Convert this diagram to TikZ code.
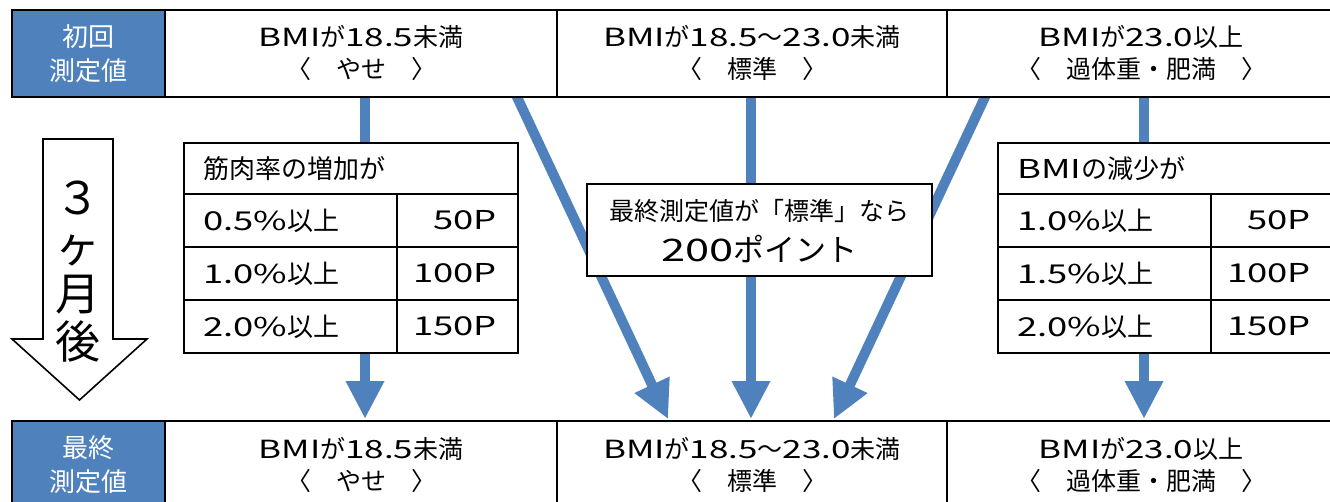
\documentclass[tikz,border=0pt]{standalone}
\usepackage{fontspec}
\setmainfont{Noto Sans CJK JP}
\newfontfamily\latf[FakeStretch=1.4]{Noto Sans CJK JP}
\newcommand\wl[1]{{\latf #1}}
\usetikzlibrary{arrows.meta}
\pgfdeclarelayer{bg}
\pgfsetlayers{bg,main}
\definecolor{ofblue}{RGB}{79,129,189}
\tikzset{
  cell/.style={draw=black, line width=1.6pt, fill=white, minimum height=87pt, inner sep=0pt, outer sep=0pt,
    align=center, anchor=north west, font=\fontsize{25}{32}\selectfont},
  lab/.style={cell, fill=ofblue, text=white, font=\fontsize{26}{34}\selectfont},
  tcell/.style={draw=black, line width=2pt, fill=white, inner sep=0pt, outer sep=0pt, anchor=north west},
  ttxt/.style={inner sep=0pt, font=\fontsize{26}{30}\selectfont},
  flow/.style={draw=ofblue, line width=10pt, -{Triangle[width=36pt,length=38pt]}, shorten >=2pt, shorten <=-4pt},
}
\begin{document}
\begin{tikzpicture}[x=1pt,y=-1pt]
\useasboundingbox (0,0) rectangle (1330,502);

% top row
\node[lab, minimum width=153pt] (ta) at (12,10) {初回\\測定値};
\node[cell, minimum width=392pt] (t1) at (165,10) {\wl{BMI}が\wl{18.5}未満\\〈　やせ　〉};
\node[cell, minimum width=390pt] (t2) at (557,10) {\wl{BMI}が\wl{18.5}～\wl{23.0}未満\\〈　標準　〉};
\node[cell, minimum width=388pt] (t3) at (947,10) {\wl{BMI}が\wl{23.0}以上\\〈　過体重・肥満　〉};

% bottom row
\node[lab, minimum width=153pt] (ba) at (12,421) {最終\\測定値};
\node[cell, minimum width=392pt] (b1) at (165,421) {\wl{BMI}が\wl{18.5}未満\\〈　やせ　〉};
\node[cell, minimum width=390pt] (b2) at (557,421) {\wl{BMI}が\wl{18.5}～\wl{23.0}未満\\〈　標準　〉};
\node[cell, minimum width=388pt] (b3) at (947,421) {\wl{BMI}が\wl{23.0}以上\\〈　過体重・肥満　〉};

% big hollow arrow
\draw[line width=1.6pt, fill=white, line join=miter] (43,139) -- (113,139) -- (113,339) -- (147,339) -- (79.5,400) -- (12,339) -- (43,339) -- cycle;
\node[inner sep=0pt, align=center, font=\fontsize{45}{48}\selectfont] (mon) at (78,272) {３\\ヶ\\月\\後};

% left table
\node[tcell, minimum width=334pt, minimum height=51pt] (lh) at (184,143) {};
\node[tcell, minimum width=213pt, minimum height=53pt] (l1a) at (184,194) {};
\node[tcell, minimum width=121pt, minimum height=53pt] (l1b) at (397,194) {};
\node[tcell, minimum width=213pt, minimum height=53pt] (l2a) at (184,247) {};
\node[tcell, minimum width=121pt, minimum height=53pt] (l2b) at (397,247) {};
\node[tcell, minimum width=213pt, minimum height=53pt] (l3a) at (184,300) {};
\node[tcell, minimum width=121pt, minimum height=53pt] (l3b) at (397,300) {};
\node[ttxt, anchor=west] (lht) at ([xshift=19pt]lh.west) {筋肉率の増加が};
\node[ttxt, anchor=west] (l1at) at ([xshift=19pt]l1a.west) {\wl{0.5\%}以上};
\node[ttxt, anchor=east] (l1bt) at ([xshift=-21pt]l1b.east) {\wl{50P}};
\node[ttxt, anchor=west] (l2at) at ([xshift=19pt]l2a.west) {\wl{1.0\%}以上};
\node[ttxt, anchor=east] (l2bt) at ([xshift=-21pt]l2b.east) {\wl{100P}};
\node[ttxt, anchor=west] (l3at) at ([xshift=19pt]l3a.west) {\wl{2.0\%}以上};
\node[ttxt, anchor=east] (l3bt) at ([xshift=-21pt]l3b.east) {\wl{150P}};

% right table
\node[tcell, minimum width=334pt, minimum height=51pt] (rh) at (998,143) {};
\node[tcell, minimum width=213pt, minimum height=53pt] (r1a) at (998,194) {};
\node[tcell, minimum width=121pt, minimum height=53pt] (r1b) at (1211,194) {};
\node[tcell, minimum width=213pt, minimum height=53pt] (r2a) at (998,247) {};
\node[tcell, minimum width=121pt, minimum height=53pt] (r2b) at (1211,247) {};
\node[tcell, minimum width=213pt, minimum height=53pt] (r3a) at (998,300) {};
\node[tcell, minimum width=121pt, minimum height=53pt] (r3b) at (1211,300) {};
\node[ttxt, anchor=west] (rht) at ([xshift=19pt]rh.west) {\wl{BMI}の減少が};
\node[ttxt, anchor=west] (r1at) at ([xshift=19pt]r1a.west) {\wl{1.0\%}以上};
\node[ttxt, anchor=east] (r1bt) at ([xshift=-21pt]r1b.east) {\wl{50P}};
\node[ttxt, anchor=west] (r2at) at ([xshift=19pt]r2a.west) {\wl{1.5\%}以上};
\node[ttxt, anchor=east] (r2bt) at ([xshift=-21pt]r2b.east) {\wl{100P}};
\node[ttxt, anchor=west] (r3at) at ([xshift=19pt]r3a.west) {\wl{2.0\%}以上};
\node[ttxt, anchor=east] (r3bt) at ([xshift=-21pt]r3b.east) {\wl{150P}};

% centre box
\node[tcell, anchor=center, minimum width=345pt, minimum height=92pt] (cb) at (759.5,230) {};
\node[inner sep=0pt, font=\fontsize{25}{30}\selectfont] (cb1) at (759.5,211) {最終測定値が「標準」なら};
\node[inner sep=0pt, font=\fontsize{31}{36}\selectfont] (cb2) at (759.5,249) {\wl{200}ポイント};

% blue flow arrows (behind)
\begin{pgfonlayer}{bg}
\draw[flow] ([xshift=4pt]t1.south) -- ([xshift=4pt]b1.north);
\draw[flow] ([xshift=-1pt]t2.south) -- ([xshift=-1pt]b2.north);
\draw[flow] ([xshift=3pt]t3.south) -- ([xshift=3pt]b3.north);
\draw[flow] ([xshift=-40pt]t1.south east) -- ([xshift=112pt]b2.north west);
\draw[flow] ([xshift=38pt]t3.south west) -- ([xshift=-114pt]b2.north east);
\end{pgfonlayer}
\end{tikzpicture}
\end{document}
